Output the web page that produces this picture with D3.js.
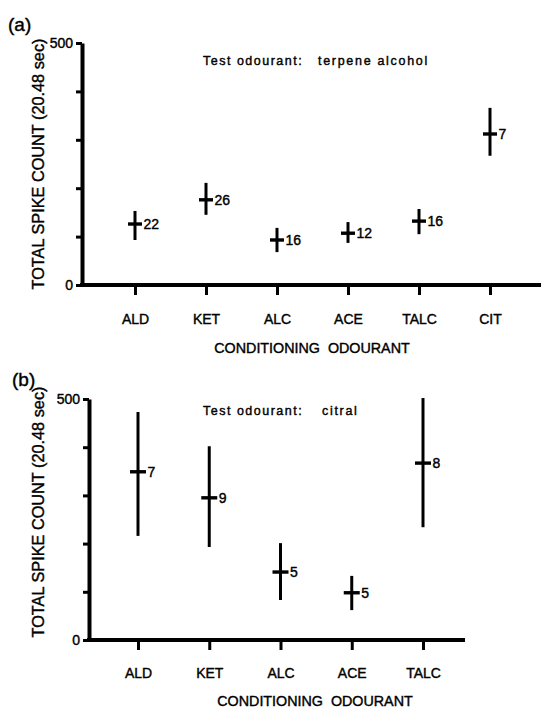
<!DOCTYPE html>
<html>
<head>
<meta charset="utf-8">
<script src="https://cdn.jsdelivr.net/npm/d3@7"></script>
<style>
  html, body { margin: 0; padding: 0; background: #fff; }
  svg { display: block; font-family: "Liberation Sans", Arial, Helvetica, sans-serif; }
  svg text { stroke: #000; stroke-width: 0.4px; }
</style>
</head>
<body>
<svg id="chart" width="544" height="711"></svg>
<script>
// ---- Data ----
const categoriesA = ["ALD", "KET", "ALC", "ACE", "TALC", "CIT"];
const meanA = [126, 176, 93, 107, 132, 312];
const lowA  = [93, 145, 68, 87, 105, 267];
const highA = [153, 211, 118, 130, 157, 366];
const nA    = [22, 26, 16, 12, 16, 7];

const categoriesB = ["ALD", "KET", "ALC", "ACE", "TALC"];
const meanB = [349, 295, 141, 98, 367];
const lowB  = [216, 193, 83, 62, 234];
const highB = [473, 402, 201, 133, 502];
const nB    = [7, 9, 5, 5, 8];

const yTicks = [0, 100, 200, 300, 400, 500];
const yTickLabels = ["0", "", "", "", "", "500"];

const yTitle = "TOTAL SPIKE COUNT (20.48 sec)";
const xTitle = "CONDITIONING  ODOURANT";
const testLabel = "Test odourant:";
const testOdourA = "terpene alcohol";
const testOdourB = "citral";

const svg = d3.select("#chart");

function panel(cfg) {
  const g = svg.append("g");
  const x = d3.scalePoint().domain(cfg.categories).range(cfg.xRange);
  const y = d3.scaleLinear().domain([0, 500]).range(cfg.yRange);

  // y axis
  const yAxis = d3.axisLeft(y).tickValues(yTicks).tickSize(6).tickSizeOuter(0)
    .tickFormat((d, i) => yTickLabels[i]);
  const ya = g.append("g").attr("transform", `translate(${cfg.axisX},0)`).call(yAxis);
  ya.attr("font-size", null).attr("font-family", null);
  ya.select(".domain").attr("stroke", "#000").attr("stroke-width", 4);
  ya.selectAll(".tick line").attr("stroke", "#000").attr("stroke-width", 3);
  ya.selectAll(".tick text").attr("x", -9).style("font-size", "14px").attr("fill", "#000");

  // x axis line
  g.append("line")
    .attr("x1", cfg.axisX - 2).attr("x2", cfg.axisEnd)
    .attr("y1", y(0)).attr("y2", y(0))
    .attr("stroke", "#000").attr("stroke-width", 4);

  const xAxis = d3.axisBottom(x).tickSize(10).tickSizeOuter(0);
  const xa = g.append("g").attr("transform", `translate(0,${y(0)})`).call(xAxis);
  xa.attr("font-size", null).attr("font-family", null);
  xa.select(".domain").remove();
  xa.selectAll(".tick line").attr("stroke", "#000").attr("stroke-width", 3);
  xa.selectAll(".tick text")
    .attr("y", cfg.catOffset).attr("dy", 0)
    .style("font-size", "14px").attr("fill", "#000");

  // error bars
  const data = cfg.categories.map((c, i) => ({c, m: cfg.mean[i], lo: cfg.low[i], hi: cfg.high[i], n: cfg.n[i]}));
  const marks = g.append("g").selectAll("g").data(data).join("g");
  marks.append("line")
    .attr("x1", d => x(d.c)).attr("x2", d => x(d.c))
    .attr("y1", d => y(d.hi)).attr("y2", d => y(d.lo))
    .attr("stroke", "#000").attr("stroke-width", 3);
  marks.append("line")
    .attr("x1", d => x(d.c) - cfg.capHalf).attr("x2", d => x(d.c) + cfg.capHalf)
    .attr("y1", d => y(d.m)).attr("y2", d => y(d.m))
    .attr("stroke", "#000").attr("stroke-width", 3.4);
  marks.append("text")
    .attr("x", d => x(d.c) + cfg.capHalf + 1.5)
    .attr("y", d => y(d.m)).attr("dy", "0.36em")
    .style("font-size", "14px").attr("fill", "#000")
    .text(d => d.n);

  // y title
  g.append("text")
    .attr("transform", `translate(${cfg.yTitleX},${cfg.yTitleY}) rotate(-90)`)
    .attr("text-anchor", "middle").style("font-size", "16.3px").attr("fill", "#000")
    .text(yTitle);

  // x title
  g.append("text")
    .attr("x", cfg.xTitleX).attr("y", cfg.xTitleY)
    .attr("text-anchor", "middle").style("font-size", "14.3px").attr("fill", "#000")
    .style("white-space", "pre")
    .text(xTitle);

  // test odourant
  g.append("text")
    .attr("x", cfg.testX).attr("y", cfg.testY)
    .style("font-size", "12.5px").attr("letter-spacing", 1.5).attr("fill", "#000")
    .text(testLabel);
  g.append("text")
    .attr("x", cfg.odourX).attr("y", cfg.testY)
    .style("font-size", "12.5px").attr("letter-spacing", 1.7).attr("fill", "#000")
    .text(cfg.odour);

  // panel letter
  g.append("text")
    .attr("x", cfg.letterX).attr("y", cfg.letterY)
    .style("font-size", "19px").attr("fill", "#000")
    .text(cfg.letter);
}

panel({
  categories: categoriesA, mean: meanA, low: lowA, high: highA, n: nA,
  xRange: [135, 490], yRange: [285, 43], axisX: 82, axisEnd: 541,
  catOffset: 39, capHalf: 7,
  yTitleX: 44, yTitleY: 164,
  xTitleX: 312, xTitleY: 353,
  testX: 203, testY: 65, odourX: 318, odour: testOdourA,
  letter: "(a)", letterX: 8, letterY: 31
});

panel({
  categories: categoriesB, mean: meanB, low: lowB, high: highB, n: nB,
  xRange: [138, 423], yRange: [640, 399], axisX: 89, axisEnd: 465,
  catOffset: 38, capHalf: 8,
  yTitleX: 44, yTitleY: 512,
  xTitleX: 315, xTitleY: 706,
  testX: 203, testY: 415, odourX: 322, odour: testOdourB,
  letter: "(b)", letterX: 12, letterY: 386
});
</script>
</body>
</html>
